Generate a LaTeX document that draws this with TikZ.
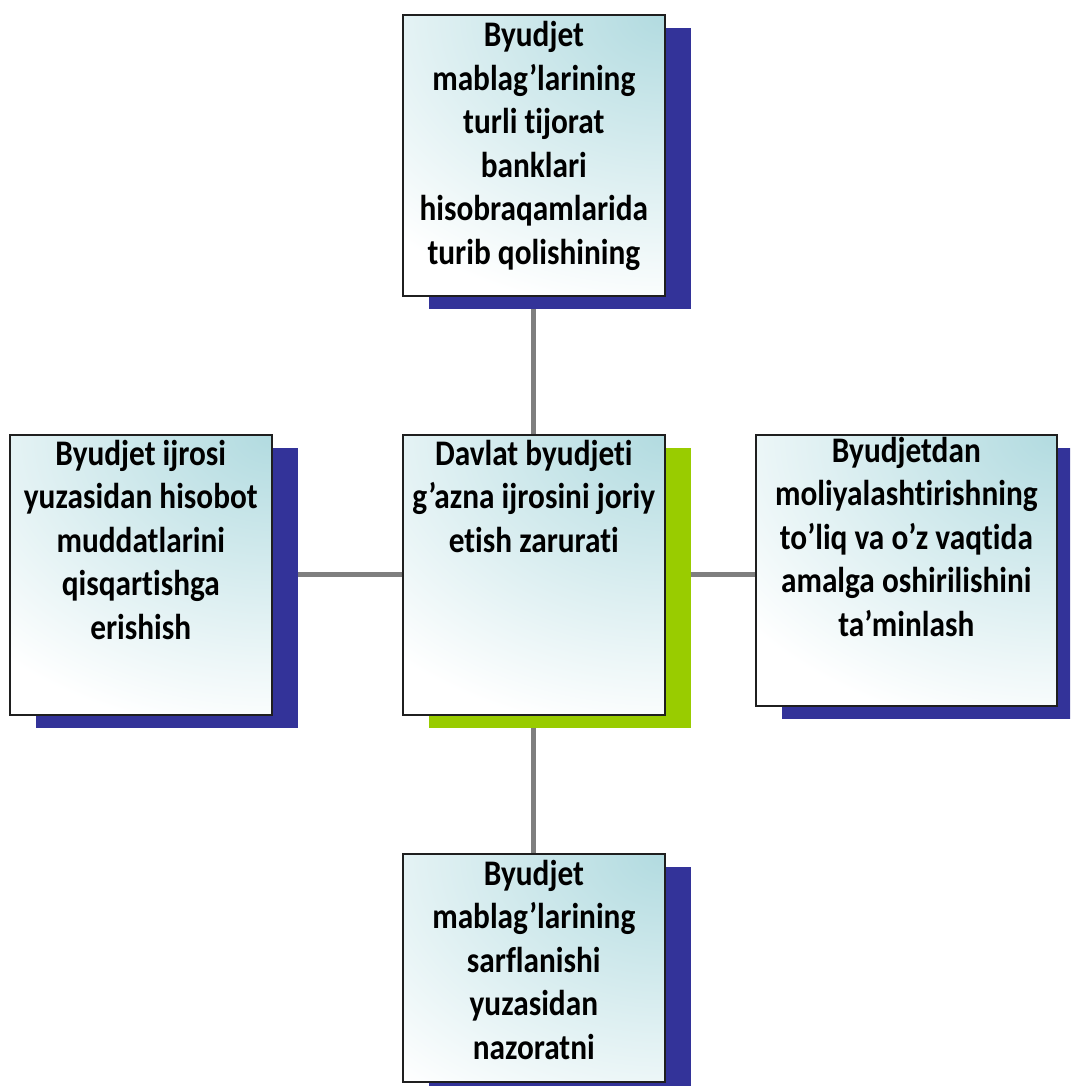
\documentclass[tikz,border=0pt]{standalone}
\usepackage{fontspec}
\newfontfamily\boxfont{Carlito}[FakeStretch=0.87, Ligatures=NoCommon]
\usetikzlibrary{shadows,backgrounds}

\definecolor{sblue}{HTML}{333399}
\definecolor{sgreen}{HTML}{99CC00}
\definecolor{tealc}{HTML}{B2DBE0}
\definecolor{connc}{HTML}{7F7F7F}

\tikzset{
  box/.style={draw=black!88, line width=1.6pt, fill=white, inner sep=0pt,
    anchor=north west,
    path picture={\shade[inner color=tealc, outer color=white]
      (path picture bounding box.north east) ellipse (400pt and 300pt);}},
  bluesh/.style={drop shadow={shadow xshift=26pt, shadow yshift=-13pt,
      fill=sblue, opacity=1}},
  greensh/.style={drop shadow={shadow xshift=26pt, shadow yshift=-13pt,
      fill=sgreen, opacity=1}},
  label text/.style={anchor=base, align=flush center, inner sep=0pt,
    font=\boxfont\bfseries\fontsize{36pt}{43.5pt}\selectfont},
  conn/.style={draw=connc, line width=5pt}
}

\begin{document}
\begin{tikzpicture}[x=1pt,y=1pt]
\useasboundingbox (0,0) rectangle (1070,-1086);
\clip (0,0) rectangle (1070,-1086);

% boxes
\node[box, bluesh, minimum width=262pt, minimum height=281pt] (bT) at (402,-14) {};
\node[box, greensh, minimum width=262pt, minimum height=280pt] (bC) at (402,-434) {};
\node[box, bluesh, minimum width=262pt, minimum height=280pt] (bL) at (9,-434) {};
\node[box, bluesh, minimum width=301pt, minimum height=271pt] (bR) at (755,-434) {};
\node[box, bluesh, minimum width=262pt, minimum height=228pt] (bB) at (402,-853) {};

% texts
\node[label text, text width=262pt, yshift=-33pt] (tT) at (bT.north)
  {Byudjet\\ mablag’larining\\ turli tijorat\\ banklari\\ hisobraqamlarida\\ turib qolishining};
\node[label text, text width=262pt, yshift=-31pt] (tC) at (bC.north)
  {Davlat byudjeti\\ g’azna ijrosini joriy\\ etish zarurati};
\node[label text, text width=262pt, yshift=-31pt] (tL) at (bL.north)
  {Byudjet ijrosi\\ yuzasidan hisobot\\ muddatlarini\\ qisqartishga\\ erishish};
\node[label text, text width=301pt, yshift=-28pt] (tR) at (bR.north)
  {Byudjetdan\\ moliyalashtirishning\\ to’liq va o’z vaqtida\\ amalga oshirilishini\\ ta’minlash};
\node[label text, text width=262pt, yshift=-32pt] (tB) at (bB.north)
  {Byudjet\\ mablag’larining\\ sarflanishi\\ yuzasidan\\ nazoratni};

% connectors behind the boxes
\begin{scope}[on background layer]
  \draw[conn] (bC.center) -- (bT.center);
  \draw[conn] (bC.center) -- (bB.center);
  \draw[conn] (bC.center) -- (bL.center);
  \draw[conn] (bC.center) -- (bC.center -| bR.center);
\end{scope}
\end{tikzpicture}
\end{document}
